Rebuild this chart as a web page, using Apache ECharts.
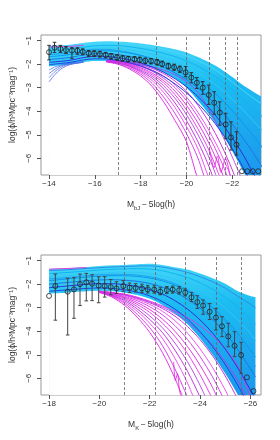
<!DOCTYPE html>
<html><head><meta charset="utf-8">
<script src="https://cdn.jsdelivr.net/npm/echarts@6/dist/echarts.min.js"></script>
<style>html,body{margin:0;padding:0;background:#fff}#c{width:280px;height:440px}</style>
</head><body><div id="c"></div>
<script>
// ---------- Panel 1 (bJ band) ----------
const P1_XTICKS = [-14, -16, -18, -20, -22];
const P1_VLINES = [-17.0, -18.7, -20.0, -21.0, -21.7, -22.2];
const P1_X = [-14.00,-14.24,-14.50,-14.74,-15.00,-15.24,-15.47,-15.73,-15.97,-16.22,-16.47,-16.71,-16.97,-17.21,-17.46,-17.73,-17.96,-18.20,-18.45,-18.72,-18.94,-19.21,-19.46,-19.71,-19.96,-20.21,-20.45,-20.71,-20.97,-21.21,-21.45,-21.71,-21.94,-22.18,-22.42,-22.65,-22.89,-23.13];
const P1_Y = [-1.49,-1.30,-1.35,-1.40,-1.42,-1.43,-1.47,-1.54,-1.55,-1.57,-1.61,-1.66,-1.71,-1.75,-1.78,-1.79,-1.81,-1.85,-1.87,-1.92,-1.99,-2.08,-2.13,-2.21,-2.35,-2.57,-2.79,-3.00,-3.31,-3.64,-4.06,-4.56,-5.11,-5.42,-6.55,-6.55,-6.55,-6.55];
const P1_LO = [-1.82,-1.50,-1.50,-1.55,-1.75,-1.58,-1.60,-1.68,-1.68,-1.70,-1.73,-1.78,-1.83,-1.87,-1.90,-1.90,-1.93,-1.97,-1.99,-2.04,-2.11,-2.20,-2.26,-2.35,-2.53,-2.79,-3.03,-3.28,-3.71,-4.13,-4.59,-5.15,-5.65,-5.86,null,null,null,null];
const P1_HI = [-1.20,-1.07,-1.20,-1.25,-1.30,-1.30,-1.35,-1.42,-1.43,-1.45,-1.50,-1.55,-1.60,-1.64,-1.67,-1.68,-1.70,-1.74,-1.76,-1.80,-1.87,-1.96,-2.00,-2.08,-2.10,-2.36,-2.57,-2.74,-2.89,-3.17,-3.60,-4.09,-4.45,-4.87,null,null,null,null];

const P1_GRID = [-14,-14.5,-15,-15.5,-16,-16.5,-17,-17.5,-18,-18.5,-19,-19.5,-20,-20.5,-21,-21.5,-22,-22.5,-23,-23.5];
const P1_UPPER = [-1.22,-1.2,-1.16,-1.1,-1.05,-1.03,-1.04,-1.07,-1.12,-1.18,-1.27,-1.37,-1.5,-1.7,-1.93,-2.2,-2.55,-2.92,-3.22,-3.5];
const P1_LOWER = [-2.1,-2.05,-2.0,-1.92,-1.87,-1.88,-1.92,-1.98,-2.05,-2.15,-2.35,-2.6,-3.0,-3.55,-4.15,-4.85,-5.7,-6.6,-7.5,-8.3];
const P1_BLUE_LINES = [
  [-1.28,-1.26,-1.22,-1.16,-1.11,-1.09,-1.1,-1.14,-1.2,-1.27,-1.37,-1.49,-1.64,-1.85,-2.1,-2.4,-2.76,-3.15,-3.5,-3.85],
  [-1.42,-1.4,-1.35,-1.28,-1.22,-1.2,-1.21,-1.26,-1.33,-1.42,-1.54,-1.68,-1.86,-2.09,-2.37,-2.7,-3.1,-3.52,-3.95,-4.4],
  [-1.55,-1.52,-1.47,-1.39,-1.33,-1.31,-1.33,-1.39,-1.47,-1.58,-1.72,-1.89,-2.1,-2.36,-2.68,-3.05,-3.5,-3.98,-4.5,-5.0],
  [-1.6,-1.56,-1.5,-1.42,-1.37,-1.37,-1.42,-1.5,-1.62,-1.78,-1.98,-2.24,-2.56,-2.96,-3.44,-4.02,-4.7,-5.5,-6.4,-7.3],
  [-1.68,-1.64,-1.58,-1.5,-1.44,-1.43,-1.46,-1.53,-1.63,-1.76,-1.92,-2.12,-2.37,-2.67,-3.04,-3.47,-3.98,-4.55,-5.15,-5.8],
  [-1.8,-1.76,-1.7,-1.61,-1.55,-1.55,-1.59,-1.67,-1.79,-1.94,-2.13,-2.37,-2.66,-3.02,-3.45,-3.96,-4.55,-5.2,-5.9,-6.7],
  [-1.92,-1.88,-1.82,-1.72,-1.66,-1.67,-1.72,-1.81,-1.95,-2.12,-2.34,-2.62,-2.96,-3.38,-3.88,-4.46,-5.14,-5.9,-6.8,-7.7],
  [-2.02,-1.97,-1.91,-1.82,-1.77,-1.78,-1.84,-1.94,-2.08,-2.27,-2.52,-2.84,-3.22,-3.68,-4.22,-4.86,-5.6,-6.45,-7.4,-8.3]
];
const P1_BLUE_COLORS = ['#4ad6f8','#12b4f0','#30c8f4','#20a0f0','#0a98ec','#1878e4','#2a30d8','#2040e0'];
const P1_DIP_X = [-14,-14.25,-14.5,-14.75,-15,-15.5];
const P1_DIP_LINES = [
  [-2.75,-2.45,-2.22,-2.08,-2.0,-1.92],
  [-2.58,-2.32,-2.14,-2.03,-1.98,-1.92],
  [-2.4,-2.22,-2.08,-2.0,-1.96,-1.9],
  [-2.25,-2.12,-2.04,-1.98,-1.95,-1.9]
];
const P1_PINK_X = [-14,-14.5,-15,-15.5];
const P1_PINK_Y = [-1.27,-1.26,-1.24,-1.2];
const P1_MAG_GRID = [-16.5,-17,-17.5,-18,-18.5,-19,-19.5,-20,-20.5,-21,-21.5,-22,-22.5,-23];
const P1_MAG_LINES = [
  [-1.9,-2.0,-2.2,-2.5,-2.95,-3.6,-4.4,-5.3,-6.9,-8],
  [-1.9,-1.98,-2.15,-2.42,-2.82,-3.4,-4.1,-4.95,-6.0,-7.5],
  [-1.88,-1.95,-2.1,-2.35,-2.7,-3.2,-3.85,-4.65,-5.6,-6.9,-8],
  [-1.88,-1.95,-2.08,-2.3,-2.6,-3.05,-3.65,-4.4,-5.3,-6.4,-7.8],
  [-1.87,-1.92,-2.05,-2.25,-2.52,-2.92,-3.45,-4.15,-5.0,-6.0,-7.3],
  [-1.86,-1.9,-2.02,-2.2,-2.45,-2.8,-3.3,-3.95,-4.75,-5.7,-6.9,-8],
  [-1.86,-1.9,-2.0,-2.15,-2.38,-2.7,-3.15,-3.75,-4.5,-5.4,-6.5,-7.8],
  [-1.85,-1.88,-1.97,-2.1,-2.3,-2.6,-3.0,-3.55,-4.25,-5.1,-6.1,-7.3],
  [-1.85,-1.88,-1.95,-2.07,-2.25,-2.5,-2.88,-3.4,-4.05,-4.85,-5.8,-6.9,-8],
  [-1.85,-1.87,-1.93,-2.03,-2.18,-2.4,-2.72,-3.15,-3.75,-4.5,-5.4,-6.5,-7.8],
  [-1.84,-1.85,-1.9,-1.98,-2.1,-2.25,-2.45,-2.75,-3.2,-3.95,-4.9,-5.95,-7.1]
];
const P1_NOISE_X = [-21.0,-21.2,-21.35,-21.5,-21.7,-21.9];
const P1_NOISE_Y = [-5.6,-6.4,-5.9,-6.6,-6.0,-6.75];

// ---------- Panel 2 (K band) ----------
const P2_XTICKS = [-18, -20, -22, -24, -26];
const P2_VLINES = [-21.0, -22.2, -23.4, -24.65, -25.65];
const P2_X = [-18.00,-18.25,-18.74,-18.99,-19.23,-19.48,-19.71,-19.97,-20.21,-20.45,-20.68,-20.95,-21.20,-21.44,-21.69,-21.92,-22.18,-22.42,-22.68,-22.91,-23.17,-23.41,-23.66,-23.89,-24.12,-24.38,-24.63,-24.87,-25.12,-25.37,-25.63,-25.86,-26.12];
const P2_Y = [-2.50,-2.08,-2.32,-2.22,-2.00,-1.92,-1.98,-2.06,-2.08,-2.12,-2.18,-2.08,-2.15,-2.16,-2.18,-2.22,-2.23,-2.32,-2.25,-2.23,-2.26,-2.36,-2.56,-2.76,-2.91,-3.17,-3.42,-3.79,-4.22,-4.62,-5.01,-5.96,-6.54];
const P2_LO = [null,-3.53,-4.16,-3.45,-2.91,-2.71,-2.70,-2.79,-2.55,-2.45,-2.40,-2.30,-2.35,-2.33,-2.35,-2.38,-2.38,-2.45,-2.40,-2.38,-2.42,-2.50,-2.74,-3.03,-3.28,-3.50,-3.95,-4.23,-4.66,-5.08,-5.79,null,null];
const P2_HI = [null,-1.57,-1.75,-1.72,-1.57,-1.54,-1.60,-1.69,-1.68,-1.80,-1.90,-1.85,-1.95,-1.98,-2.00,-2.05,-2.07,-2.15,-2.10,-2.08,-2.10,-2.20,-2.35,-2.49,-2.67,-2.82,-3.03,-3.38,-3.66,-4.02,-4.47,null,null];

const P2_GRID = [-18,-18.5,-19,-19.5,-20,-20.5,-21,-21.5,-22,-22.5,-23,-23.5,-24,-24.5,-25,-25.5,-26,-26.2];
const P2_UPPER = [-1.35,-1.33,-1.3,-1.27,-1.23,-1.2,-1.18,-1.15,-1.13,-1.18,-1.28,-1.38,-1.55,-1.75,-1.98,-2.3,-2.5,-2.55];
const P2_LOWER = [-2.4,-2.38,-2.33,-2.3,-2.28,-2.3,-2.36,-2.46,-2.62,-2.88,-3.25,-3.7,-4.3,-5.0,-5.8,-6.7,-7.6,-8];
const P2_BLUE_LINES = [
  [-1.42,-1.4,-1.37,-1.33,-1.3,-1.27,-1.25,-1.23,-1.22,-1.27,-1.37,-1.5,-1.68,-1.9,-2.17,-2.52,-2.85,-3.0],
  [-1.55,-1.52,-1.48,-1.44,-1.4,-1.37,-1.35,-1.34,-1.36,-1.43,-1.56,-1.72,-1.94,-2.22,-2.56,-2.98,-3.5,-3.7],
  [-1.7,-1.66,-1.61,-1.57,-1.53,-1.5,-1.49,-1.5,-1.55,-1.64,-1.8,-2.0,-2.26,-2.6,-3.02,-3.52,-4.1,-4.4],
  [-1.78,-1.74,-1.69,-1.64,-1.6,-1.58,-1.58,-1.61,-1.68,-1.8,-1.98,-2.24,-2.58,-3.02,-3.58,-4.28,-5.1,-5.5],
  [-1.85,-1.8,-1.75,-1.7,-1.66,-1.64,-1.64,-1.67,-1.74,-1.86,-2.04,-2.29,-2.6,-3.0,-3.5,-4.1,-4.8,-5.1],
  [-2.0,-1.95,-1.9,-1.85,-1.82,-1.81,-1.83,-1.88,-1.97,-2.12,-2.34,-2.64,-3.02,-3.5,-4.08,-4.78,-5.6,-5.95],
  [-2.15,-2.1,-2.05,-2.0,-1.98,-1.98,-2.02,-2.1,-2.23,-2.42,-2.7,-3.06,-3.52,-4.08,-4.76,-5.56,-6.5,-6.9],
  [-2.3,-2.26,-2.22,-2.18,-2.16,-2.18,-2.24,-2.34,-2.5,-2.74,-3.06,-3.48,-4.02,-4.66,-5.42,-6.3,-7.3]
];
const P2_BLUE_COLORS = ['#2a8ee6','#12b4f0','#30c8f4','#20a0f0','#0a98ec','#1878e4','#2a30d8','#2040e0'];
const P2_PINK_X = [-18,-18.5,-19,-19.5];
const P2_PINK_Y = [-1.36,-1.34,-1.32,-1.29];
const P2_MAG_GRID = [-20,-20.5,-21,-21.5,-22,-22.5,-23,-23.5,-24,-24.5,-25,-25.5,-26,-26.2];
const P2_MAG_LINES = [
  [-2.35,-2.55,-2.9,-3.4,-4.05,-4.9,-6.0,-7.3],
  [-2.35,-2.52,-2.82,-3.28,-3.85,-4.6,-5.6,-6.8,-8],
  [-2.34,-2.5,-2.76,-3.15,-3.66,-4.3,-5.15,-6.2,-7.5],
  [-2.33,-2.48,-2.7,-3.05,-3.5,-4.05,-4.8,-5.7,-6.8,-8],
  [-2.33,-2.46,-2.65,-2.95,-3.35,-3.85,-4.5,-5.3,-6.3,-7.5],
  [-2.32,-2.44,-2.6,-2.86,-3.2,-3.65,-4.22,-4.95,-5.85,-6.9,-8],
  [-2.32,-2.42,-2.56,-2.78,-3.08,-3.48,-4.0,-4.65,-5.45,-6.4,-7.6],
  [-2.31,-2.4,-2.52,-2.7,-2.96,-3.3,-3.76,-4.35,-5.08,-5.95,-7.0,-8],
  [-2.31,-2.38,-2.48,-2.64,-2.86,-3.15,-3.55,-4.08,-4.75,-5.55,-6.5,-7.6],
  [-2.3,-2.37,-2.45,-2.6,-2.79,-3.03,-3.36,-3.8,-4.36,-5.05,-5.9,-6.9,-8],
  [-2.3,-2.36,-2.44,-2.57,-2.75,-2.97,-3.25,-3.6,-4.05,-4.6,-5.3,-6.1,-7.2,-7.6],
  [-2.3,-2.35,-2.42,-2.55,-2.72,-2.92,-3.15,-3.42,-3.77,-4.2,-4.75,-5.5,-6.8,-7.5]
];
const P2_NOISE_X = [-22.95,-23.02,-23.1,-23.18,-23.25];
const P2_NOISE_Y = [-5.3,-6.1,-5.8,-6.5,-6.8];

const Y_TICKS = [-1, -2, -3, -4, -5, -6];
const MAG_COLORS = ['#e020e0','#d030e8','#f040f0','#c020d8','#b040e8','#e830e0'];

// ---------- build ----------
const FONT = 'Liberation Sans, Arial, sans-serif';
const minus = v => String(v).replace('-', '\u2212');
function pairs(xs, ys) {
  const out = [];
  for (let i = 0; i < ys.length && i < xs.length; i++) if (ys[i] != null) out.push([xs[i], ys[i]]);
  return out;
}
function line(g, xs, ys, color, width, z) {
  return {type:'line', xAxisIndex:g, yAxisIndex:g, data:pairs(xs, ys), symbol:'none', showSymbol:false,
    smooth:0.3, lineStyle:{color:color, width:width}, z:z, silent:true, animation:false};
}
function area(g, xs, ys, color, z) {
  return {type:'line', xAxisIndex:g, yAxisIndex:g, data:pairs(xs, ys), symbol:'none', showSymbol:false,
    smooth:0.3, lineStyle:{width:0, opacity:0}, areaStyle:{origin:'start', color:color, opacity:1}, z:z, silent:true, animation:false};
}
function errorBars(g, xs, lo, hi, color) {
  const d = [];
  xs.forEach((x, i) => { if (lo[i] != null && hi[i] != null) d.push([x, lo[i], hi[i]]); });
  return {type:'custom', xAxisIndex:g, yAxisIndex:g, data:d, z:8, silent:true, animation:false,
    renderItem:function(params, api){
      const x = api.value(0);
      const a = api.coord([x, api.value(2)]), b = api.coord([x, api.value(1)]);
      const w = 1.8, st = {stroke:color, lineWidth:1};
      return {type:'group', children:[
        {type:'line', shape:{x1:a[0], y1:a[1], x2:b[0], y2:b[1]}, style:st},
        {type:'line', shape:{x1:a[0]-w, y1:a[1], x2:a[0]+w, y2:a[1]}, style:st},
        {type:'line', shape:{x1:b[0]-w, y1:b[1], x2:b[0]+w, y2:b[1]}, style:st}
      ]};
    }};
}
function points(g, xs, ys, vlines) {
  return {type:'scatter', xAxisIndex:g, yAxisIndex:g, data:pairs(xs, ys), symbol:'circle', symbolSize:5,
    itemStyle:{color:'rgba(0,0,0,0)', borderColor:'#222', borderWidth:1}, z:9, silent:true, animation:false,
    markLine:{silent:true, symbol:['none','none'], label:{show:false}, animation:false,
      lineStyle:{type:[3,2], color:'#666', width:0.8}, data:vlines.map(v => ({xAxis:v}))}};
}
function fillGrad() {
  return new echarts.graphic.LinearGradient(0,0,0,1,[
    {offset:0, color:'#44d6f8'},{offset:0.3, color:'#1cbcf2'},{offset:1, color:'#1c96ec'}]);
}

const series = [];
// panel 1
series.push(area(0, P1_GRID, P1_UPPER, fillGrad(), 1));
series.push(area(0, P1_GRID, P1_LOWER, '#ffffff', 2));
P1_MAG_LINES.forEach((ys, i) => series.push(line(0, P1_MAG_GRID, ys, MAG_COLORS[i % MAG_COLORS.length], 0.9, 3)));
series.push(line(0, P1_NOISE_X, P1_NOISE_Y, '#e020e0', 0.8, 3));
P1_DIP_LINES.forEach((ys, i) => series.push(line(0, P1_DIP_X, ys, i % 2 ? '#4080e8' : '#5a5ee0', 0.8, 4)));
P1_BLUE_LINES.forEach((ys, i) => series.push(line(0, P1_GRID, ys, P1_BLUE_COLORS[i], 1, 4)));
series.push(line(0, P1_PINK_X, P1_PINK_Y, '#e040e0', 1, 5));
series.push(errorBars(0, P1_X, P1_LO, P1_HI, '#333'));
series.push(points(0, P1_X, P1_Y, P1_VLINES));
// panel 2
series.push(area(1, P2_GRID, P2_UPPER, fillGrad(), 1));
series.push(area(1, P2_GRID, P2_LOWER, '#ffffff', 2));
P2_MAG_LINES.forEach((ys, i) => series.push(line(1, P2_MAG_GRID, ys, MAG_COLORS[i % MAG_COLORS.length], 0.9, 3)));
series.push(line(1, P2_NOISE_X, P2_NOISE_Y, '#e020e0', 0.8, 3));
P2_BLUE_LINES.forEach((ys, i) => series.push(line(1, P2_GRID, ys, P2_BLUE_COLORS[i], 1, 4)));
series.push(line(1, P2_PINK_X, P2_PINK_Y, '#e040e0', 1, 5));
series.push(errorBars(1, P2_X, P2_LO, P2_HI, '#444'));
series.push(points(1, P2_X, P2_Y, P2_VLINES));

function xAxis(g, min, max, ticks, sub) {
  return {gridIndex:g, type:'value', min:min, max:max, inverse:true, splitLine:{show:false},
    axisLine:{show:false},
    axisTick:{show:true, length:4, lineStyle:{color:'#555'}, customValues:ticks},
    axisLabel:{customValues:ticks, formatter:minus, fontSize:8, color:'#333', margin:5, fontFamily:FONT},
    name:'{m|M}{s|' + sub + '}{m|\u2009\u2212\u20095log(h)}', nameLocation:'middle', nameGap:24,
    nameTextStyle:{fontFamily:FONT, rich:{
      m:{fontSize:8.5, color:'#333', fontFamily:FONT, verticalAlign:'middle'},
      s:{fontSize:6, color:'#333', fontFamily:FONT, padding:[6,0,0,0], verticalAlign:'middle'}}}};
}
function yAxis(g) {
  return {gridIndex:g, type:'value', min:-6.71, max:-0.76, splitLine:{show:false},
    axisLine:{show:false},
    axisTick:{show:true, length:4, lineStyle:{color:'#555'}, customValues:Y_TICKS},
    axisLabel:{customValues:Y_TICKS, formatter:minus, rotate:90, fontSize:8, color:'#333', margin:8, fontFamily:FONT},
    name:'log(\u03d5/h\u00b3Mpc\u207b\u00b3mag\u207b\u00b9)', nameLocation:'middle', nameRotate:90, nameGap:24,
    nameTextStyle:{fontSize:8.5, color:'#333', fontFamily:FONT}};
}

const chart = echarts.init(document.getElementById('c'), null, {renderer:'canvas'});
chart.setOption({
  animation:false,
  backgroundColor:'#fff',
  grid:[
    {left:36, top:35, width:225, height:140, show:true, borderColor:'#999', borderWidth:1, backgroundColor:'transparent'},
    {left:36, top:255, width:225, height:140, show:true, borderColor:'#999', borderWidth:1, backgroundColor:'transparent'}
  ],
  xAxis:[xAxis(0, -23.25, -13.65, P1_XTICKS, 'bJ'), xAxis(1, -26.42, -17.68, P2_XTICKS, 'K')],
  yAxis:[yAxis(0), yAxis(1)],
  series:series
});
</script></body></html>
